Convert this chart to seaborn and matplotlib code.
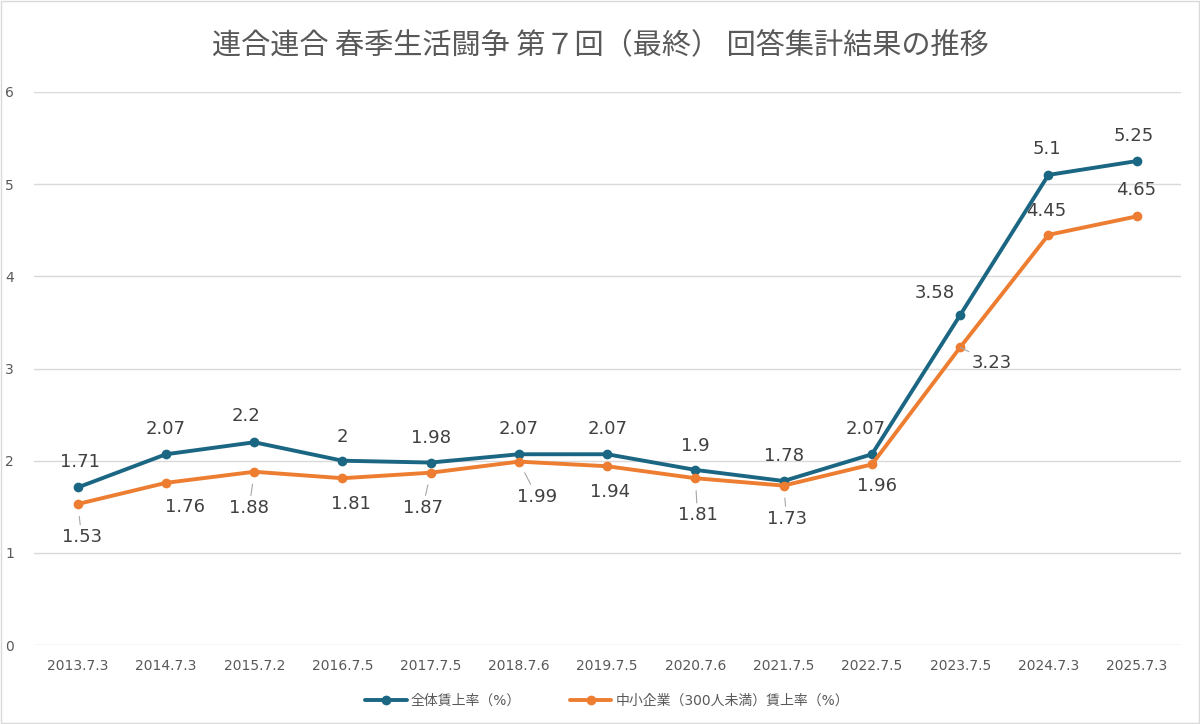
import matplotlib
matplotlib.use("Agg")
import matplotlib.pyplot as plt
import seaborn as sns
import pandas as pd

# data
dates = ["2013.7.3", "2014.7.3", "2015.7.2", "2016.7.5", "2017.7.5", "2018.7.6", "2019.7.5",
         "2020.7.6", "2021.7.5", "2022.7.5", "2023.7.5", "2024.7.3", "2025.7.3"]
all_rate = [1.71, 2.07, 2.2, 2.0, 1.98, 2.07, 2.07, 1.9, 1.78, 2.07, 3.58, 5.1, 5.25]
sme_rate = [1.53, 1.76, 1.88, 1.81, 1.87, 1.99, 1.94, 1.81, 1.73, 1.96, 3.23, 4.45, 4.65]
all_labels = ["1.71", "2.07", "2.2", "2", "1.98", "2.07", "2.07", "1.9", "1.78", "2.07", "3.58", "5.1", "5.25"]
sme_labels = ["1.53", "1.76", "1.88", "1.81", "1.87", "1.99", "1.94", "1.81", "1.73", "1.96", "3.23", "4.45", "4.65"]
name_all = "全体賃上率（%）"
name_sme = "中小企業（300人未満）賃上率（%）"

# label offsets in pixels (x right, y down)
all_off = [(2, -25), (0, -25), (-8, -26), (0, -24), (0, -25), (0, -25), (0, -25),
           (0, -24), (0, -25), (-6, -25), (-25, -22), (-2, -26), (-3, -25)]
sme_off = [(4, 33), (19, 24), (-5, 36), (8, 26), (-8, 35), (18, 35), (3, 26),
           (2, 37), (3, 33), (5, 22), (32, 16), (-2, -24), (-1, -26)]
sme_leader = [True, False, True, False, True, True, False, True, True, False, True, False, False]

sns.set_style("white")
plt.rcParams["font.family"] = ["DejaVu Sans", "Noto Sans CJK JP"]

df = pd.DataFrame({
    "date": dates * 2,
    "rate": all_rate + sme_rate,
    "series": [name_all] * len(dates) + [name_sme] * len(dates),
})
df["pos"] = list(range(len(dates))) * 2

blue = "#1b6682"
orange = "#ed7d31"

fig = plt.figure(figsize=(12, 7.24), dpi=100)
ax = fig.add_axes([0.028, 0.109, 0.956, 0.764])
sns.lineplot(data=df, x="pos", y="rate", hue="series", palette=[blue, orange],
             marker="o", markersize=7, markeredgewidth=0, linewidth=2.8, ax=ax)

ax.set_xlim(-0.5, len(dates) - 0.5)
ax.set_ylim(0, 6)
ax.set_yticks(range(0, 7))
ax.set_xticks(range(len(dates)))
ax.set_xticklabels(dates)
ax.tick_params(axis="both", length=0, labelsize=10, labelcolor="#595959")
ax.tick_params(axis="y", pad=14)
ax.tick_params(axis="x", pad=10)
ax.grid(axis="y", color="#d9d9d9", linewidth=1)
for s in ax.spines.values():
    s.set_visible(False)
ax.set_xlabel("")
ax.set_ylabel("")

for i in range(len(dates)):
    dx, dy = all_off[i]
    ax.annotate(all_labels[i], (i, all_rate[i]), xytext=(dx, -dy), textcoords="offset pixels",
                ha="center", va="center", fontsize=13, color="#404040")
    dx, dy = sme_off[i]
    arrow = dict(arrowstyle="-", color="#a6a6a6", lw=0.8, shrinkA=0, shrinkB=9) if sme_leader[i] else None
    ax.annotate(sme_labels[i], (i, sme_rate[i]), xytext=(dx, -dy), textcoords="offset pixels",
                ha="center", va="center", fontsize=13, color="#404040", arrowprops=arrow)

ax.legend(loc="upper center", bbox_to_anchor=(0.5, -0.065), ncol=2, frameon=False,
          fontsize=10, handlelength=3, handletextpad=0.3, columnspacing=3.5, labelcolor="#595959")

fig.suptitle("連合連合 春季生活闘争 第７回（最終） 回答集計結果の推移", y=0.957,
             fontsize=21, color="#595959", family=["Noto Sans CJK JP", "DejaVu Sans"])

fig.patches.append(plt.Rectangle((0.001, 0.001), 0.998, 0.998, transform=fig.transFigure,
                                 fill=False, edgecolor="#d9d9d9", linewidth=1))

fig.savefig("out.png", dpi=100)
